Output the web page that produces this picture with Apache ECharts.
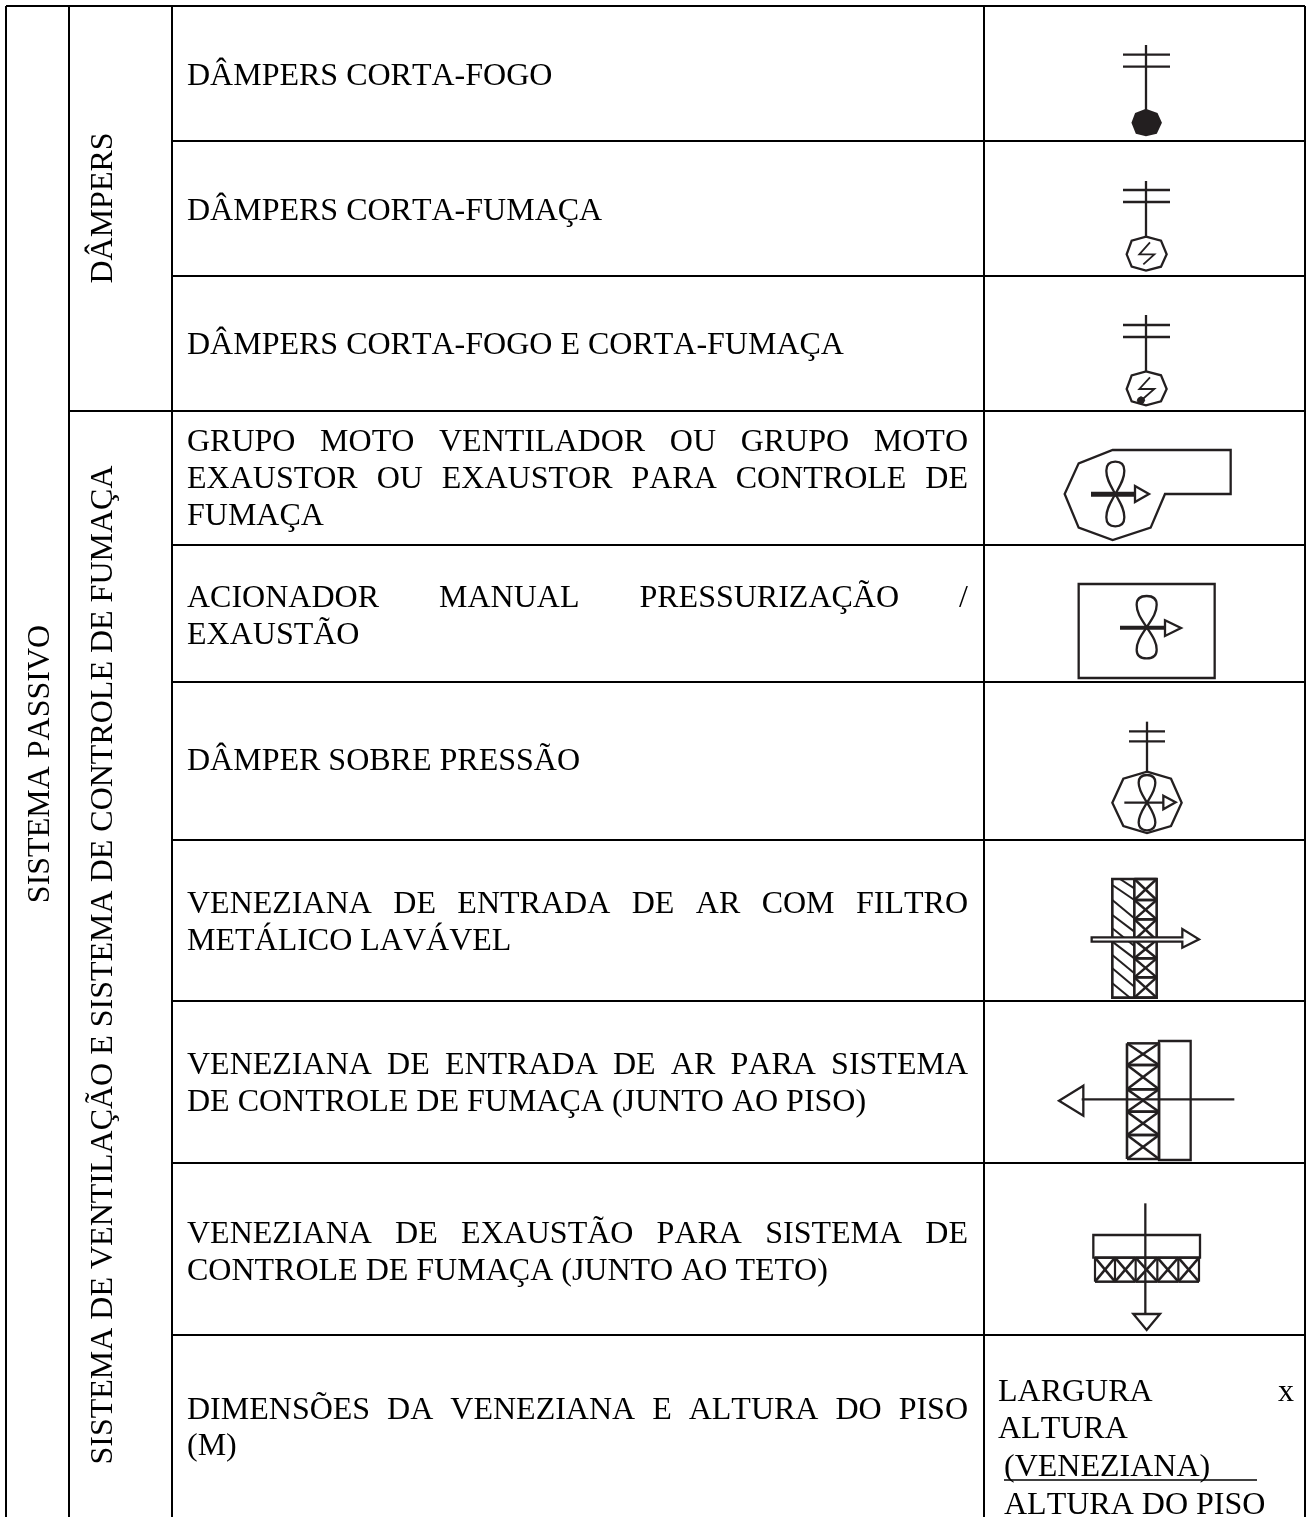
<!DOCTYPE html>
<html><head><meta charset="utf-8">
<style>html,body{margin:0;padding:0;background:#fff}#c{width:1311px;height:1517px}</style>
<script src="https://cdn.jsdelivr.net/npm/echarts@6/dist/echarts.min.js"></script>
</head><body><div id="c"></div>
<script>
// ---- table content ----
const columnEdges = [6, 69, 172, 984, 1305];
const rowEdges = [6, 141, 276, 411, 545, 682, 840, 1001, 1163, 1335];
const pageBottom = 1517;
const descriptionLines = [
  'DÂMPERS CORTA-FOGO','DÂMPERS CORTA-FUMAÇA','DÂMPERS CORTA-FOGO E CORTA-FUMAÇA',
  'GRUPO MOTO VENTILADOR OU GRUPO MOTO','EXAUSTOR OU EXAUSTOR PARA CONTROLE DE','FUMAÇA',
  'ACIONADOR MANUAL PRESSURIZAÇÃO /','EXAUSTÃO',
  'DÂMPER SOBRE PRESSÃO',
  'VENEZIANA DE ENTRADA DE AR COM FILTRO','METÁLICO LAVÁVEL',
  'VENEZIANA DE ENTRADA DE AR PARA SISTEMA','DE CONTROLE DE FUMAÇA (JUNTO AO PISO)',
  'VENEZIANA DE EXAUSTÃO PARA SISTEMA DE','CONTROLE DE FUMAÇA (JUNTO AO TETO)',
  'DIMENSÕES DA VENEZIANA E ALTURA DO PISO','(M)'
];
const descriptionBaselines = [86,221,355,452,489,526,608,645,771,914,951,1075,1112,1244,1281,1420,1456];
const descriptionJustified = [0,0,0,1,1,0,1,0,0,1,0,1,0,1,0,1,0];
const noteLines = ['LARGURA x','ALTURA','(VENEZIANA)','ALTURA DO PISO'];
const noteBaselines = [1402,1439,1477,1515];
const noteStarts = [998,998,1004,1004];
const noteJustified = [1,0,0,0];
const sideLabels = ['SISTEMA PASSIVO','DÂMPERS','SISTEMA DE VENTILAÇÃO E SISTEMA DE CONTROLE DE FUMAÇA'];
const sideCenterX = [41,103.5,103.5];
const sideCenterY = [764,208,965];

// the reference text is set without pair kerning
const nativeFillText = CanvasRenderingContext2D.prototype.fillText;
CanvasRenderingContext2D.prototype.fillText = function () {
  this.fontKerning = 'none';
  return nativeFillText.apply(this, arguments);
};

// ---- symbol outlines at 3x ----
const crop = (ox, oy, pts) => pts.map(p => [ox + p[0] / 3, oy + p[1] / 3]);
const octagon3 = [[258,680],[303,692],[320,733],[303,770],[258,782],[215,770],[200,733],[215,692]];
const cell = (x1, y1, x2, y2) => [[[x1,y1],[x2,y2]], [[x1,y2],[x2,y1]], [[x1,y1],[x2,y1]], [[x1,y2],[x2,y2]]];
const petals = (ox, oy, cx, cy, h1, h2, w) => {
  const P = (x, y) => [ox + (cx + x) / 3, oy + (cy + y) / 3];
  const one = (h, s) => [P(0,0), P(-w*.5, s*h*.25), P(-w, s*h*.45), P(-w, s*h*.72), P(-w, s*h*.92), P(-w*.55, s*h), P(0, s*h), P(w*.55, s*h), P(w, s*h*.92), P(w, s*h*.72), P(w, s*h*.45), P(w*.5, s*h*.25), P(0,0)];
  return [one(h1,-1), one(h2,1)];
};
const strokes = [];
const addLine = (pts, o) => strokes.push(Object.assign({pts, width:2.3}, o || {}));
const addCurve = (pts, o) => strokes.push(Object.assign({pts, curve:true, width:2.3}, o || {}));

// damper stems
[[45,110,54.7,66.7],[181,237,190,202],[315,371,325,337]].forEach(s => {
  addLine([[1146,s[0]],[1146,s[1]]]);
  addLine([[1123,s[2]],[1170,s[2]]]);
  addLine([[1123,s[3]],[1170,s[3]]]);
});
addLine(crop(1060,10,[[258,300],[290,312],[302,338],[288,368],[258,375],[230,368],[218,338],[228,312]]),{closed:true,fill:'#231f20'});
addLine(crop(1060,10,octagon3),{closed:true});
addLine(crop(1060,10,[[270,697],[238,733],[283,733],[250,763]]),{width:1.8});
addLine(crop(1060,10,octagon3.map(p=>[p[0],p[1]+404])),{closed:true});
addLine(crop(1060,10,[[270,1102],[238,1137],[283,1137],[245,1170]]),{width:1.8});
addLine(crop(1060,10,[[243,1160],[251,1164],[254,1171],[250,1179],[243,1182],[235,1179],[232,1171],[235,1164]]),{closed:true,fill:'#231f20',width:1});

// blower
addLine(crop(1020,420,[[278,90],[632,90],[632,222],[435,222],[392,323],[278,360],[176,323],[134,222],[176,130]]),{closed:true});
petals(1020,420,286,222,97,97,27).forEach(p=>addCurve(p));
addLine(crop(1020,420,[[213,223],[345,223]]),{width:5});
addLine(crop(1020,420,[[345,198],[387,222],[345,246]]),{closed:true,fill:'#fff'});

// manual trigger
addLine(crop(1020,420,[[176,492],[584,492],[584,774],[176,774]]),{closed:true});
petals(1020,420,380,622,94,93,30).forEach(p=>addCurve(p));
addLine(crop(1020,420,[[300,623],[435,623]]),{width:4});
addLine(crop(1020,420,[[435,601],[483,624],[435,648]]),{closed:true,fill:'#fff'});

// overpressure damper
addLine(crop(1070,690,[[231,95],[231,245]]));
addLine(crop(1070,690,[[177,124],[285,124]]));
addLine(crop(1070,690,[[177,154],[285,154]]));
addLine(crop(1070,690,[[231,245],[303,266],[335,338],[303,408],[231,429],[160,408],[127,338],[160,266]]),{closed:true});
petals(1070,690,231,338,83,83,25).forEach(p=>addCurve(p));
addLine(crop(1070,690,[[163,338],[280,338]]));
addLine(crop(1070,690,[[280,317],[317,337],[280,358]]),{closed:true,fill:'#fff'});

// louver with filter
addLine(crop(1070,860,[[127,57],[260,57],[260,413],[127,413]]),{closed:true,width:2.6});
addLine(crop(1070,860,[[193,57],[193,413]]),{width:2.6});
[57,120,178,240,295,352,413].reduce((a,b)=>{cell(193,a,260,b).forEach(s=>addLine(crop(1070,860,s),{width:2.5}));return b;});
[[[150,57],[193,85]],[[127,75],[193,120]],[[127,120],[193,175]],[[127,165],[193,215]],[[127,205],[193,258]],[[127,245],[193,295]],[[127,285],[193,340]],[[127,325],[193,380]],[[127,370],[180,413]]]
  .forEach(s=>addLine(crop(1070,860,s),{width:2}));
addLine(crop(1070,860,[[65,232],[337,232],[337,207],[387,238],[337,263],[337,245],[65,245]]),{closed:true,fill:'#fff'});

// floor louver
addLine(crop(1050,1030,[[327,33],[422,33],[422,390],[327,390]]),{closed:true});
[40,105,178,245,315,387].reduce((a,b)=>{cell(231,a,327,b).forEach(s=>addLine(crop(1050,1030,s),{width:2.5}));return b;});
addLine(crop(1050,1030,[[231,40],[231,387]]),{width:2.6});
addLine(crop(1050,1030,[[327,40],[327,387]]),{width:2.6});
addLine(crop(1050,1030,[[95,208],[553,208]]));
addLine(crop(1050,1030,[[100,167],[27,212],[100,257]]),{closed:true});

// ceiling louver
addLine(crop(1080,1190,[[40,135],[360,135],[360,203],[40,203]]),{closed:true});
[45,105,167,232,295,357].reduce((a,b)=>{cell(a,203,b,275).forEach(s=>addLine(crop(1080,1190,s),{width:2.5}));return b;});
[45,105,167,232,295,357].forEach(x=>addLine(crop(1080,1190,[[x,203],[x,275]]),{width:2.2}));
addLine(crop(1080,1190,[[196,40],[196,372]]));
addLine(crop(1080,1190,[[160,372],[240,372],[200,420]]),{closed:true});

// ---- rule segments ----
const ruleSegments = [];
const V = columnEdges;
V.forEach((x,i)=>ruleSegments.push([x, rowEdges[0], x, pageBottom, 2]));
ruleSegments.push([V[0], rowEdges[0], V[4], rowEdges[0], 2]);
rowEdges.slice(1).forEach(y=>ruleSegments.push([y===411?V[1]:V[2], y, V[4], y, 2]));
ruleSegments.push([1004, 1480, 1257, 1480, 1.6]);

// ---- text placement ----
const FONT = '32px "Liberation Serif"';
const RIGHT_TEXT = 968, LEFT_TEXT = 187, NOTE_RIGHT = 1294;
const meas = document.createElement('canvas').getContext('2d');
meas.font = FONT;
meas.fontKerning = 'none';
function wordsFor(line, x0, x1, justified) {
  if (!justified) return [[line, x0]];
  const words = line.split(' ');
  const widths = words.map(w => meas.measureText(w).width);
  const gap = (x1 - x0 - widths.reduce((a,b)=>a+b,0)) / (words.length - 1);
  let x = x0;
  return words.map((w,i)=>{const r=[w,x]; x+=widths[i]+gap; return r;});
}
const textRows = [];
descriptionLines.forEach((l,i)=>wordsFor(l,LEFT_TEXT,RIGHT_TEXT,descriptionJustified[i]).forEach(w=>textRows.push([w[1],descriptionBaselines[i],w[0]])));
noteLines.forEach((l,i)=>wordsFor(l,noteStarts[i],NOTE_RIGHT,noteJustified[i]).forEach(w=>textRows.push([w[1],noteBaselines[i],w[0]])));

const textStyle = {font: FONT, fill:'#000', textVerticalAlign:'bottom'};
const ASC = 7; // distance from the baseline to the text box bottom
const chart = echarts.init(document.getElementById('c'), null, {renderer:'canvas'});
chart.setOption({
  animation:false,
  backgroundColor:'#fff',
  grid:{left:0,right:0,top:0,bottom:0,containLabel:false},
  xAxis:{type:'value',min:0,max:1311,show:false},
  yAxis:{type:'value',min:0,max:1517,inverse:true,show:false},
  series:[
    {type:'custom',clip:false,silent:true,data:ruleSegments,encode:{x:[0,2],y:[1,3]},
     renderItem(p,api){
       const a=api.coord([api.value(0),api.value(1)]),b=api.coord([api.value(2),api.value(3)]);
       return {type:'line',shape:{x1:a[0],y1:a[1],x2:b[0],y2:b[1]},style:{stroke:'#000',lineWidth:api.value(4)}};
     }},
    {type:'custom',clip:false,silent:true,data:strokes.map((s,i)=>[i,i]),encode:{x:0,y:1},z:3,
     renderItem(p,api){
       const s=strokes[api.value(0)];
       const pts=s.pts.map(q=>api.coord(q));
       const style={stroke:'#231f20',lineWidth:s.width,fill:s.fill||'none',lineJoin:'miter'};
       if(s.curve){
         let d='M'+pts[0].join(' ');
         for(let i=1;i+2<pts.length;i+=3) d+='C'+pts[i].join(' ')+' '+pts[i+1].join(' ')+' '+pts[i+2].join(' ');
         return {type:'path',shape:{pathData:d},style};
       }
       return {type:s.closed?'polygon':'polyline',shape:{points:pts},style};
     }},
    {type:'custom',clip:false,silent:true,data:textRows,encode:{x:0,y:1},z:4,
     renderItem(p,api){
       const c=api.coord([api.value(0),api.value(1)]);
       return {type:'text',x:c[0],y:c[1]+ASC,style:Object.assign({text:textRows[p.dataIndex][2],textAlign:'left'},textStyle)};
     }},
    {type:'custom',clip:false,silent:true,data:sideLabels.map((l,i)=>[sideCenterX[i],sideCenterY[i]]),encode:{x:0,y:1},z:4,
     renderItem(p,api){
       const c=api.coord([api.value(0),api.value(1)]);
       return {type:'text',x:c[0],y:c[1],rotation:Math.PI/2,style:{text:sideLabels[p.dataIndex],font:FONT,fill:'#000',textAlign:'center',textVerticalAlign:'middle'}};
     }}
  ]
});
</script></body></html>
